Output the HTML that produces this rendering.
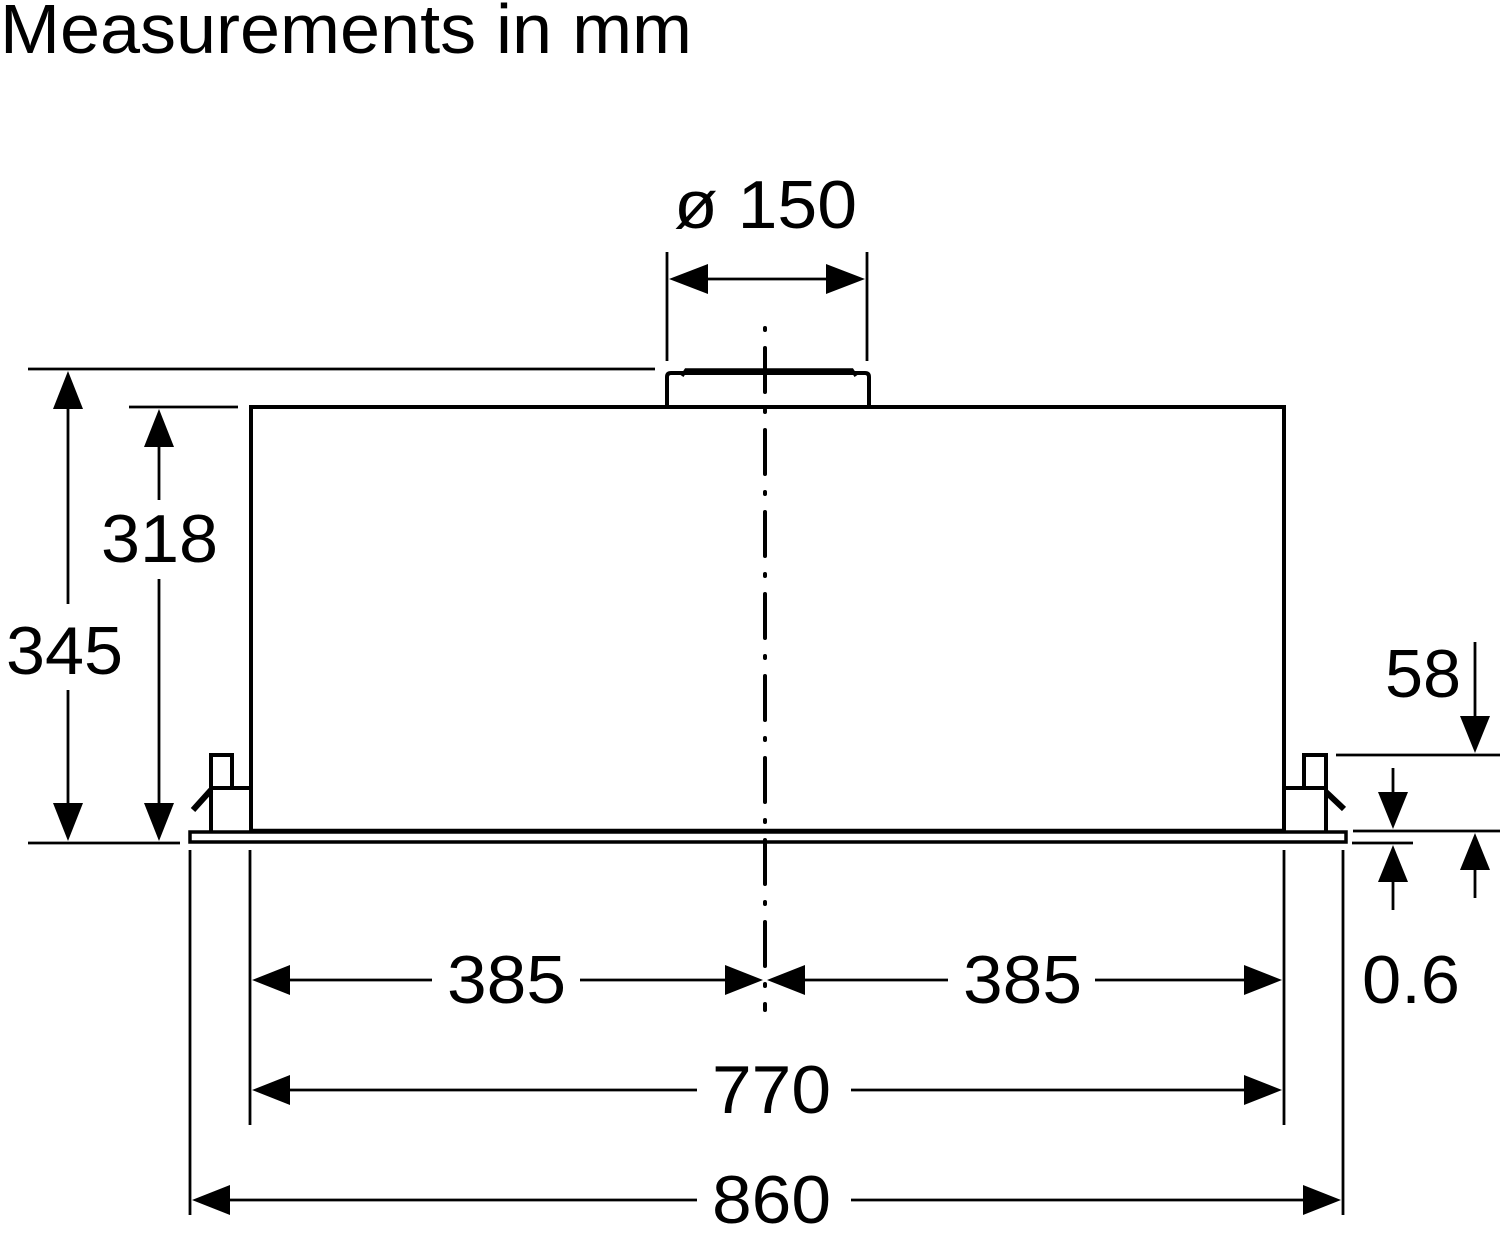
<!DOCTYPE html>
<html><head><meta charset="utf-8"><style>
html,body{margin:0;padding:0;background:#fff;}
svg{display:block;}
text{font-family:"Liberation Sans",Arial,sans-serif;fill:#000;}
</style></head><body>
<svg width="1500" height="1240" viewBox="0 0 1500 1240" xmlns="http://www.w3.org/2000/svg">
<text x="0" y="53" font-size="70" textLength="692" lengthAdjust="spacingAndGlyphs">Measurements in mm</text>

<g stroke="#000" fill="none">
<rect x="251" y="407" width="1033" height="424" stroke-width="4"/>
<path d="M667 406 V377 Q667 373 671 373 H865 Q869 373 869 377 V406" stroke-width="4"/>
<path d="M682 376 L686 370 H852 L856 376" stroke-width="3.5"/>
<rect x="190" y="832" width="1156" height="10" stroke-width="3.5"/>
<line x1="251" y1="831" x2="1284" y2="831" stroke-width="4.5"/>
<rect x="211" y="755" width="21" height="33" stroke-width="4"/>
<path d="M211 788 H251 M211 788 V831" stroke-width="4"/>
<line x1="211" y1="790" x2="193" y2="810" stroke-width="6"/>
<rect x="1304" y="755" width="22" height="33" stroke-width="4"/>
<path d="M1284 788 H1326 M1326 788 V831" stroke-width="4"/>
<line x1="1326" y1="792" x2="1344" y2="809" stroke-width="6"/>

<line x1="765" y1="328" x2="765" y2="1010" stroke-width="4" stroke-dasharray="2 18 44 18" stroke-linecap="round"/>

<g stroke-width="2.8">
<line x1="667" y1="252" x2="667" y2="361"/>
<line x1="867" y1="252" x2="867" y2="361"/>
<line x1="700" y1="279" x2="835" y2="279"/>
<line x1="28" y1="369" x2="655" y2="369"/>
<line x1="28" y1="843" x2="180" y2="843"/>
<line x1="68" y1="400" x2="68" y2="604"/>
<line x1="68" y1="690" x2="68" y2="810"/>
<line x1="129" y1="407" x2="238" y2="407"/>
<line x1="159" y1="440" x2="159" y2="500"/>
<line x1="159" y1="579" x2="159" y2="810"/>
<line x1="1336" y1="755" x2="1500" y2="755"/>
<line x1="1353" y1="831" x2="1500" y2="831"/>
<line x1="1352" y1="843" x2="1413" y2="843"/>
<line x1="1475" y1="642" x2="1475" y2="725"/>
<line x1="1475" y1="870" x2="1475" y2="898"/>
<line x1="1393" y1="768" x2="1393" y2="800"/>
<line x1="1393" y1="875" x2="1393" y2="910"/>
<line x1="190" y1="850" x2="190" y2="1215"/>
<line x1="250" y1="850" x2="250" y2="1125"/>
<line x1="1284" y1="850" x2="1284" y2="1125"/>
<line x1="1343" y1="850" x2="1343" y2="1215"/>
<line x1="285" y1="980" x2="432" y2="980"/>
<line x1="580" y1="980" x2="730" y2="980"/>
<line x1="800" y1="980" x2="948" y2="980"/>
<line x1="1095" y1="980" x2="1250" y2="980"/>
<line x1="285" y1="1090" x2="697" y2="1090"/>
<line x1="851" y1="1090" x2="1250" y2="1090"/>
<line x1="225" y1="1200" x2="697" y2="1200"/>
<line x1="851" y1="1200" x2="1310" y2="1200"/>
</g>
</g>

<g fill="#000">
<polygon points="669,279 708,264 708,294"/>
<polygon points="865,279 826,264 826,294"/>
<polygon points="68,371 53,409 83,409"/>
<polygon points="68,841 53,803 83,803"/>
<polygon points="159,409 144,447 174,447"/>
<polygon points="159,841 144,803 174,803"/>
<polygon points="1475,753 1460,716 1490,716"/>
<polygon points="1475,833 1460,870 1490,870"/>
<polygon points="1393,829 1378,792 1408,792"/>
<polygon points="1393,845 1378,882 1408,882"/>
<polygon points="252,980 290,965 290,995"/>
<polygon points="763,980 725,965 725,995"/>
<polygon points="767,980 805,965 805,995"/>
<polygon points="1282,980 1244,965 1244,995"/>
<polygon points="252,1090 290,1075 290,1105"/>
<polygon points="1282,1090 1244,1075 1244,1105"/>
<polygon points="192,1200 230,1185 230,1215"/>
<polygon points="1341,1200 1303,1185 1303,1215"/>
</g>

<g font-size="68">
<text x="674" y="228" textLength="183" lengthAdjust="spacingAndGlyphs">ø 150</text>
<text x="101" y="562" textLength="117" lengthAdjust="spacingAndGlyphs">318</text>
<text x="6" y="674" textLength="117" lengthAdjust="spacingAndGlyphs">345</text>
<text x="1385" y="697" textLength="76" lengthAdjust="spacingAndGlyphs">58</text>
<text x="1362" y="1003" textLength="98" lengthAdjust="spacingAndGlyphs">0.6</text>
<text x="447" y="1003" textLength="119" lengthAdjust="spacingAndGlyphs">385</text>
<text x="963" y="1003" textLength="119" lengthAdjust="spacingAndGlyphs">385</text>
<text x="712" y="1113" textLength="119" lengthAdjust="spacingAndGlyphs">770</text>
<text x="712" y="1223" textLength="119" lengthAdjust="spacingAndGlyphs">860</text>
</g>
</svg>
</body></html>
